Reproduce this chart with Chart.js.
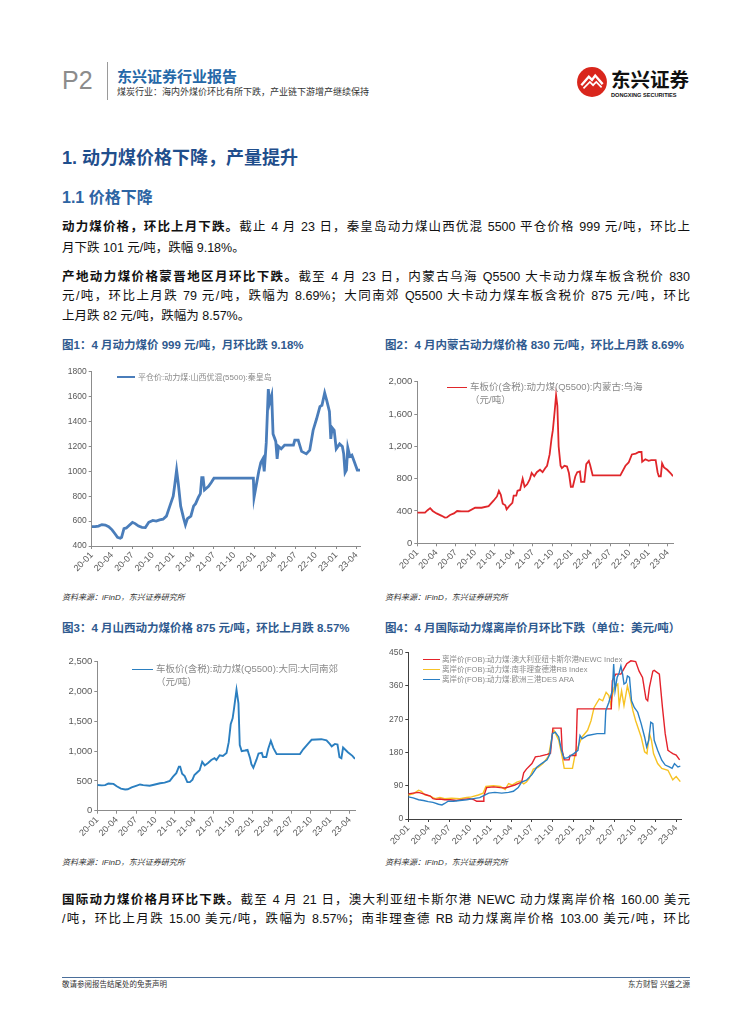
<!DOCTYPE html>
<html>
<head>
<meta charset="utf-8">
<script src="https://cdn.jsdelivr.net/npm/chart.js@4.4.1/dist/chart.umd.min.js"></script>
<style>
body{margin:0;background:#fff}
#page{position:relative;width:755px;height:1024px;overflow:hidden;font-family:"Liberation Sans","Noto Sans CJK SC",sans-serif;color:#111}
.abs{position:absolute;white-space:nowrap}
.line{position:absolute;left:62px;width:628px;font-size:12.5px;line-height:18px;text-align:justify;text-align-last:justify;white-space:nowrap}
.line.last{text-align-last:left}
.ttl{position:absolute;font-size:11.5px;font-weight:bold;color:#2f5a8f;line-height:14px;white-space:nowrap}
.src{position:absolute;font-size:8px;font-style:italic;color:#333;line-height:10px;white-space:nowrap}
.lg{position:absolute;color:#8a8a8a;white-space:nowrap}
.sw{position:absolute;height:0}
canvas{position:absolute}
</style>
</head>
<body>
<div id="page">

<div class="abs" style="left:62px;top:66px;font-size:25px;line-height:28px;color:#8c8c8c">P2</div>
<div class="abs" style="left:107px;top:62px;width:1px;height:38px;background:#9a9a9a"></div>
<div class="abs" style="left:117px;top:68px;font-size:15px;line-height:18px;font-weight:bold;color:#2467a8">东兴证券行业报告</div>
<div class="abs" style="left:117px;top:87px;font-size:9px;line-height:11px;color:#333">煤炭行业：海内外煤价环比有所下跌，产业链下游增产继续保持</div>

<svg class="abs" style="left:576px;top:66px" width="32" height="32" viewBox="0 0 30 30">
<circle cx="15" cy="15" r="14" fill="#d9261c"/>
<path d="M5 18 L12 10 L15 13 L18 9 L25 17" stroke="#fff" stroke-width="2.2" fill="none"/>
<path d="M7 21 L13 15 L16 18 L19 15 L24 20" stroke="#fff" stroke-width="1.6" fill="none"/>
</svg>
<div class="abs" style="left:611px;top:69px;font-size:19.5px;line-height:22px;font-weight:bold;color:#111">东兴证券</div>
<div class="abs" style="left:611px;top:92px;font-size:5.6px;line-height:7px;font-weight:bold;color:#111">DONGXING SECURITIES</div>

<div class="abs" style="left:62px;top:146px;font-size:18px;line-height:24px;font-weight:bold;color:#1f4e8c">1. 动力煤价格下降，产量提升</div>
<div class="abs" style="left:62px;top:188px;font-size:16px;line-height:20px;font-weight:bold;color:#2d64a3">1.1 价格下降</div>

<div class="line" style="top:218px"><b>动力煤价格，环比上月下跌。</b>截止 4 月 23 日，秦皇岛动力煤山西优混 5500 平仓价格 999 元/吨，环比上</div>
<div class="line last" style="top:239px">月下跌 101 元/吨，跌幅 9.18%。</div>
<div class="line" style="top:268px"><b>产地动力煤价格蒙晋地区月环比下跌。</b>截至 4 月 23 日，内蒙古乌海 Q5500 大卡动力煤车板含税价 830</div>
<div class="line" style="top:287px">元/吨，环比上月跌 79 元/吨，跌幅为 8.69%；大同南郊 Q5500 大卡动力煤车板含税价 875 元/吨，环比</div>
<div class="line last" style="top:307px">上月跌 82 元/吨，跌幅为 8.57%。</div>

<div class="ttl" style="left:62px;top:338px">图1：4 月动力煤价 999 元/吨，月环比跌 9.18%</div>
<div class="ttl" style="left:385px;top:338px">图2：4 月内蒙古动力煤价格 830 元/吨，环比上月跌 8.69%</div>
<div class="ttl" style="left:62px;top:621px">图3：4 月山西动力煤价格 875 元/吨，环比上月跌 8.57%</div>
<div class="ttl" style="left:385px;top:621px">图4：4 月国际动力煤离岸价月环比下跌（单位：美元/吨）</div>

<canvas id="c1" style="left:58px;top:362px" width="310" height="222"></canvas>
<canvas id="c2" style="left:385px;top:372px" width="296" height="208"></canvas>
<canvas id="c3" style="left:60px;top:652px" width="303" height="196"></canvas>
<canvas id="c4" style="left:380px;top:643px" width="309" height="213"></canvas>

<div class="sw" style="left:117px;top:376px;width:18px;border-top:2.8px solid #4a7dba"></div>
<div class="lg" style="left:138px;top:372px;font-size:8px;line-height:11px">平仓价:动力煤:山西优混(5500):秦皇岛</div>

<div class="sw" style="left:447px;top:387px;width:20px;border-top:1.8px solid #e0262a"></div>
<div class="lg" style="left:470px;top:381px;font-size:9.5px;line-height:12.5px">车板价(含税):动力煤(Q5500):内蒙古:乌海<br>（元/吨）</div>

<div class="sw" style="left:132px;top:669px;width:21px;border-top:1.9px solid #2b7fc0"></div>
<div class="lg" style="left:156px;top:663px;font-size:9.5px;line-height:12.5px">车板价(含税):动力煤(Q5500):大同:大同南郊<br>（元/吨）</div>

<div class="sw" style="left:423px;top:659px;width:17px;border-top:1.5px solid #e4222b"></div>
<div class="sw" style="left:423px;top:669px;width:17px;border-top:1.5px solid #f7c325"></div>
<div class="sw" style="left:423px;top:679px;width:17px;border-top:1.5px solid #2a7fc4"></div>
<div class="lg" style="left:442px;top:655px;font-size:7.5px;line-height:10px">离岸价(FOB):动力煤:澳大利亚纽卡斯尔港NEWC Index<br>离岸价(FOB):动力煤:南非理查德港RB Index<br>离岸价(FOB):动力煤:欧洲三港DES ARA</div>

<div class="src" style="left:62px;top:593px">资料来源：iFinD，东兴证券研究所</div>
<div class="src" style="left:385px;top:593px">资料来源：iFinD，东兴证券研究所</div>
<div class="src" style="left:62px;top:858px">资料来源：iFinD，东兴证券研究所</div>
<div class="src" style="left:385px;top:858px">资料来源：iFinD，东兴证券研究所</div>

<div class="line" style="top:891px"><b>国际动力煤价格月环比下跌。</b>截至 4 月 21 日，澳大利亚纽卡斯尔港 NEWC 动力煤离岸价格 160.00 美元</div>
<div class="line" style="top:910px">/吨，环比上月跌 15.00 美元/吨，跌幅为 8.57%；南非理查德 RB 动力煤离岸价格 103.00 美元/吨，环比</div>

<div class="abs" style="left:62px;top:977px;width:628px;height:1px;background:#4a6e9a"></div>
<div class="abs" style="left:62px;top:980px;font-size:7.5px;line-height:10px;color:#333">敬请参阅报告结尾处的免责声明</div>
<div class="abs" style="left:620px;top:980px;width:70px;text-align:right;font-size:7.5px;line-height:10px;color:#333">东方财智 兴盛之源</div>

</div>
<script>
// x positions are months since 2020-01
const tickLabels=['20-01','20-04','20-07','20-10','21-01','21-04','21-07','21-10','22-01','22-04','22-07','22-10','23-01','23-04']

// 图1 秦皇岛 山西优混5500 平仓价
const qhdMonth=[0,0.5,1,1.5,2,2.5,3,3.4,3.8,4.2,4.4,4.75,5.1,5.5,6,6.4,6.9,7.4,7.9,8.4,9,9.5,10,10.5,11,11.5,12,12.25,12.5,12.75,13.1,13.5,13.8,14.1,14.6,15,15.3,15.7,16,16.2,16.4,16.6,17.2,17.6,18,23.8,23.9,24.2,24.6,24.9,25.2,25.4,25.7,26,26.2,26.5,26.7,27.1,27.3,27.5,27.9,28.4,29.7,29.9,30.4,30.9,31.6,32.1,32.6,33.1,33.6,33.9,34.3,34.6,35,35.2,35.4,35.7,36,36.5,36.9,37.1,37.3,37.5,37.7,38,38.3,38.7,39.1,39.5]
const qhdPrice=[555,555,560,572,568,555,530,500,470,462,470,540,545,565,590,580,560,550,548,590,605,600,610,615,640,720,800,900,1010,900,720,630,570,620,640,720,740,790,820,950,950,850,880,910,945,945,790,880,1000,1070,1100,1000,1230,1660,1550,1610,1300,1240,1100,1200,1180,1210,1210,1250,1250,1160,1140,1170,1330,1420,1520,1530,1630,1570,1480,1260,1350,1330,1180,1220,1200,1140,990,1010,1190,1120,1130,1070,1010,1010]

// 图2 乌海 Q5500 车板价
const whMonth=[0,0.7,1.2,1.6,2.0,2.4,3.0,3.8,4.3,4.6,5.1,5.7,6.2,6.9,7.96,9.0,10.0,11.1,11.9,12.4,12.7,13.0,13.3,13.7,13.9,14.3,14.8,15.0,15.4,15.6,16.0,16.4,16.7,17.1,17.5,17.8,18.2,18.6,19.1,19.5,19.9,20.2,20.6,20.9,21.1,21.4,21.6,21.8,22.0,22.3,22.5,22.9,23.3,23.6,23.9,24.2,24.6,24.9,25.3,25.5,26.0,26.3,26.7,26.9,27.3,31.6,32.4,32.9,33.4,34.0,34.5,34.9,35.0,35.5,36.0,36.4,37.1,37.4,37.6,37.9,38.1,38.4,38.9,39.4,39.8]
const whPrice=[380,380,380,410,435,400,370,340,318,320,350,370,400,395,395,440,440,460,530,580,650,600,490,470,420,460,500,590,590,650,660,800,700,730,790,870,830,880,910,880,930,960,1100,1300,1400,1650,1830,1700,1200,960,930,960,950,870,700,700,830,880,890,760,760,980,1020,970,840,840,960,1000,1100,1110,1130,1130,1010,1040,1020,1030,1030,880,830,830,990,940,910,870,830]

// 图3 大同南郊 Q5500 车板价
const dtMonth=[0,0.7,1.2,1.7,2.5,3.0,3.65,4.3,4.7,5.3,6.1,6.6,7.1,8.1,8.9,9.7,10.4,11.2,11.7,12.2,12.6,12.8,13.1,13.5,13.9,14.3,14.7,15.0,15.5,15.8,16.2,16.6,17.1,17.6,18.1,18.4,18.9,19.4,19.96,20.3,20.6,20.9,21.1,21.5,21.8,22.0,22.3,22.8,23.2,23.6,23.8,24.1,24.6,24.9,25.4,25.6,26.1,26.4,26.8,27.2,27.7,31.3,31.8,32.6,33.1,34.6,35.4,35.9,36.2,36.7,37.1,37.4,37.7,37.96,38.7,39.4,39.8]
const dtPrice=[430,425,430,455,450,410,370,355,360,390,420,440,430,420,440,460,470,500,570,630,740,740,620,580,480,480,520,600,650,680,820,760,800,850,880,850,930,920,970,1150,1450,1550,1700,2030,1800,1100,1000,1010,1020,880,780,720,860,960,970,900,900,1040,1170,1050,950,950,1030,1130,1190,1200,1180,1120,1080,1120,1110,900,880,1060,980,920,870]

// 图4 离岸价 FOB
const newcMonth=[0,0.7,1.5,2.2,2.7,3.2,3.6,4.1,4.6,5.3,6.1,7.0,8.0,9.0,9.6,9.96,10.9,11.0,11.4,12.4,13.4,14.1,14.8,15.5,16.5,16.8,17.2,18.0,18.5,19.2,20.2,20.7,21.05,22.25,22.4,22.7,23.4,23.55,24.4,24.6,29.55,29.7,30.2,30.95,31.8,32.4,33.1,33.6,34.1,34.6,34.85,35.1,35.6,35.8,36.55,37.0,37.4,37.8,38.1,38.5,39.0,39.5]
const newcPrice=[68,70,72,68,65,62,55,53,54,52,52,50,53,55,52,48,48,62,85,87,85,84,88,92,100,125,135,150,168,170,175,178,246,246,186,160,160,172,172,298,298,374,392,392,420,428,426,400,383,325,320,356,400,402,392,302,231,186,182,177,173,160]

const rbMonth=[0,0.7,1.5,1.9,2.4,3.2,3.9,4.6,5.3,6.3,7.5,8.5,9.2,10.2,10.9,11.3,12.4,13.4,14.1,14.6,15.1,15.8,16.3,16.8,17.2,17.6,18.2,18.9,19.6,20.4,20.7,21.0,21.2,21.6,21.9,22.4,22.7,23.9,24.4,24.6,24.9,25.3,26.1,26.6,27.05,27.8,28.3,28.8,29.2,29.5,29.7,29.97,30.5,30.7,31.05,31.4,31.9,32.2,32.7,33.1,33.9,34.4,34.75,35.1,35.4,35.7,36.3,36.9,37.8,38.5,39.0,39.6]
const rbPrice=[65,68,78,75,65,62,55,58,55,56,55,58,60,65,70,88,90,88,80,96,92,100,103,95,100,110,135,140,150,170,200,230,240,225,213,168,137,137,186,190,204,222,240,266,302,325,320,343,334,307,334,356,365,307,347,307,360,338,293,266,222,182,177,231,213,177,150,137,132,106,115,101]

const araMonth=[0,0.7,1.5,2.2,2.9,3.6,4.4,4.9,5.3,5.8,6.6,7.5,8.5,9.5,10.4,11.2,11.7,12.6,13.6,14.6,15.3,16.0,16.5,17.2,18.0,18.7,19.4,20.2,20.6,20.97,21.4,21.9,22.3,22.7,23.2,24.1,24.7,25.0,25.3,26.1,27.5,28.6,28.75,29.2,29.7,29.9,30.1,30.4,30.7,30.95,31.2,31.4,31.7,31.9,32.2,32.5,32.9,33.4,33.9,34.4,34.7,35.0,35.3,35.6,35.8,36.3,36.9,37.4,38.0,38.4,38.75,39.25,39.6]
const araPrice=[60,57,52,50,47,45,40,38,42,48,48,50,52,55,58,65,70,72,70,72,75,85,100,105,120,140,150,160,175,231,235,222,186,164,166,177,186,226,217,226,231,231,293,316,347,419,347,383,396,414,392,365,369,387,383,320,302,289,258,222,195,213,262,258,213,186,159,146,141,137,150,141,143]

const font="'Liberation Sans','Noto Sans CJK SC',sans-serif"

function pts(ms,vs){
return ms.slice(0,vs.length).map((m,i)=>({x:m,y:vs[i]}))
}

function line(data,color,w){
return{data:data,borderColor:color,borderWidth:w,pointRadius:0,tension:0,fill:false}
}

function opts(o){
return{
responsive:false,
animation:false,
layout:{padding:{top:o.top,right:o.right,left:0,bottom:0}},
plugins:{legend:{display:false},tooltip:{enabled:false}},
scales:{
x:{
type:'linear',min:0,max:o.xMax,
afterBuildTicks:s=>{s.ticks=tickLabels.map((t,i)=>({value:i*3}))},
afterFit:s=>{s.height=o.xH},
ticks:{autoSkip:false,minRotation:45,maxRotation:45,padding:1,color:'#595959',font:{family:font,size:9},callback:v=>tickLabels[Math.round(v/3)]},
grid:{drawOnChartArea:false,drawTicks:true,tickLength:3,color:o.axis},
border:{color:o.axis}
},
y:{
min:o.yMin,max:o.yMax,
afterFit:s=>{s.width=o.yW},
ticks:{stepSize:o.step,padding:2,color:'#595959',font:{family:font,size:o.yFont},callback:o.fmt},
grid:{drawOnChartArea:false,drawTicks:true,tickLength:3,color:o.axis},
border:{color:o.axis}
}
}
}
}

const plain=v=>String(v)
const comma=v=>v.toLocaleString('en-US')

new Chart(document.getElementById('c1'),{
type:'line',
data:{datasets:[line(pts(qhdMonth,qhdPrice),'#4a7dba',2.8)]},
options:opts({top:9.7,right:8,xMax:39.5,xH:38,yW:33.7,yMin:400,yMax:1800,step:200,yFont:8.5,fmt:plain,axis:'#8c8c8c'})
})

new Chart(document.getElementById('c2'),{
type:'line',
data:{datasets:[line(pts(whMonth,whPrice),'#e0262a',1.8)]},
options:opts({top:9.7,right:8,xMax:39.8,xH:36.7,yW:32.3,yMin:0,yMax:2000,step:400,yFont:9.5,fmt:comma,axis:'#8c8c8c'})
})

new Chart(document.getElementById('c3'),{
type:'line',
data:{datasets:[line(pts(dtMonth,dtPrice),'#2b7fc0',1.9)]},
options:opts({top:9.7,right:8,xMax:39.8,xH:37.3,yW:37.3,yMin:0,yMax:2500,step:500,yFont:9.5,fmt:comma,axis:'#8c8c8c'})
})

new Chart(document.getElementById('c4'),{
type:'line',
data:{datasets:[
line(pts(araMonth,araPrice),'#2a7fc4',1.4),
line(pts(newcMonth,newcPrice),'#e4222b',1.4),
line(pts(rbMonth,rbPrice),'#f7c325',1.4)
]},
options:opts({top:9.7,right:8,xMax:39.7,xH:37,yW:28.3,yMin:0,yMax:450,step:90,yFont:8.5,fmt:plain,axis:'#404040'})
})
</script>
</body>
</html>
